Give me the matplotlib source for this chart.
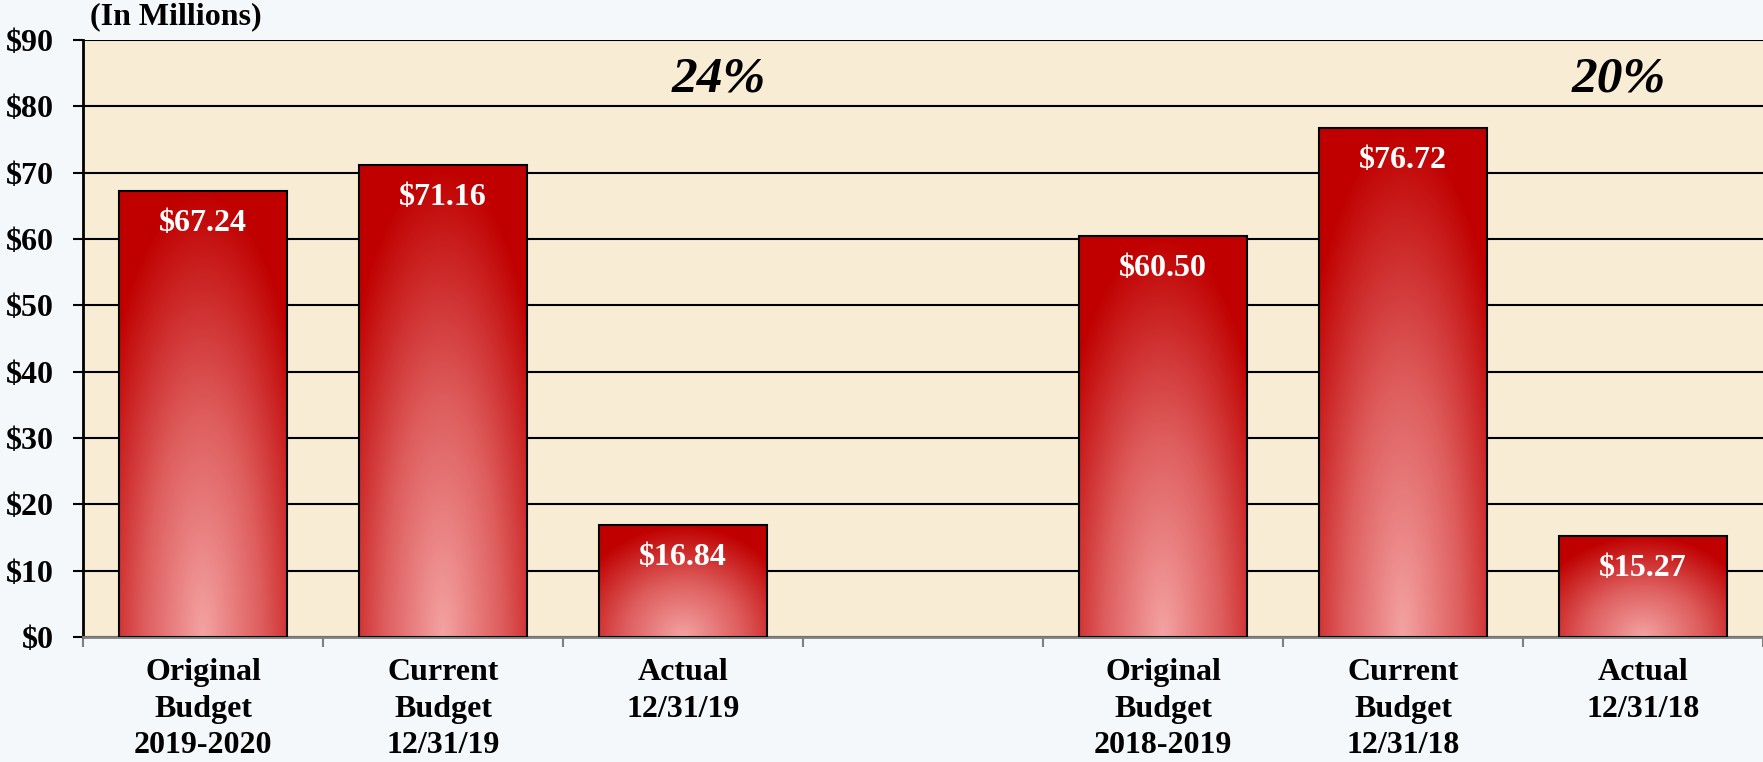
import numpy as np
import matplotlib.pyplot as plt
from matplotlib.patches import Rectangle
from matplotlib.colors import LinearSegmentedColormap

# data
labels = ['Original\nBudget\n2019-2020', 'Current\nBudget\n12/31/19', 'Actual\n12/31/19', '',
          'Original\nBudget\n2018-2019', 'Current\nBudget\n12/31/18', 'Actual\n12/31/18']
values = [67.24, 71.16, 16.84, None, 60.50, 76.72, 15.27]
pct_labels = ['24%', '20%']
pct_x = [2.15, 5.9]
pct_y = 84

plt.rcParams['font.family'] = ['Liberation Serif', 'DejaVu Serif']
plt.rcParams['font.weight'] = 'bold'

fig = plt.figure(figsize=(17.63, 7.62), dpi=100, facecolor='#f4f8fa')
ax = fig.add_axes([83 / 1763, 1 - 637 / 762, 1 - 83 / 1763, (637 - 40) / 762])
ax.set_facecolor('#f8ecd4')

cmap = LinearSegmentedColormap.from_list('bar', ['#f4a2a2', '#de5c5c', '#c00000'])
width = 0.7
for i, v in enumerate(values):
    if v is None:
        continue
    x0 = i - width / 2
    rect = Rectangle((x0, 0), width, v, facecolor='none', edgecolor='black', lw=1.5, zorder=4)
    ax.add_patch(rect)
    # radial-ish gradient: light at bottom centre, dark red at top and edges
    gx = np.linspace(-1, 1, 200)
    gy = np.linspace(0, 1, 200)
    X, Y = np.meshgrid(gx, gy)
    t = np.clip(np.sqrt(0.5 * X ** 2 + Y ** 2) / 1.0, 0, 1)
    im = ax.imshow(t, extent=(x0, x0 + width, 0, v), origin='lower', cmap=cmap,
                   aspect='auto', zorder=3, interpolation='bilinear')
    im.set_clip_path(rect)
    ax.text(i, v - 4.9, f'${v:.2f}', ha='center', va='center', color='white',
            fontsize=23, fontweight='bold', zorder=5)

for s, x in zip(pct_labels, pct_x):
    ax.text(x, pct_y, s, ha='center', va='center', fontsize=37, fontweight='bold',
            fontstyle='italic', zorder=5)

ax.set_xlim(-0.5, 6.5)
ax.set_ylim(0, 90)
ax.set_yticks(np.arange(0, 91, 10))
ax.set_yticklabels([f'${t}' for t in range(0, 91, 10)], fontsize=23, fontweight='bold')
ax.yaxis.grid(True, color='black', lw=1.5, zorder=1)
ax.set_axisbelow(True)

ax.set_xticks(range(len(labels)))
ax.set_xticklabels(labels, fontsize=23, fontweight='bold', linespacing=1.35)
ax.set_xticks(np.arange(-0.5, 7, 1), minor=True)
ax.tick_params(axis='x', which='major', length=0, pad=15)
ax.tick_params(axis='x', which='minor', length=7, color='#808080', width=1.5)
ax.tick_params(axis='y', length=7, width=1.5, pad=14)

for side in ['top', 'right']:
    ax.spines[side].set_visible(False)
ax.spines['left'].set_linewidth(2)
ax.spines['bottom'].set_color('#808080')
ax.spines['bottom'].set_linewidth(2)

fig.text(90 / 1763, 1 - 17 / 762, '(In Millions)', ha='left', va='center',
         fontsize=23, fontweight='bold')

fig.savefig('out.png', dpi=100, facecolor=fig.get_facecolor())
